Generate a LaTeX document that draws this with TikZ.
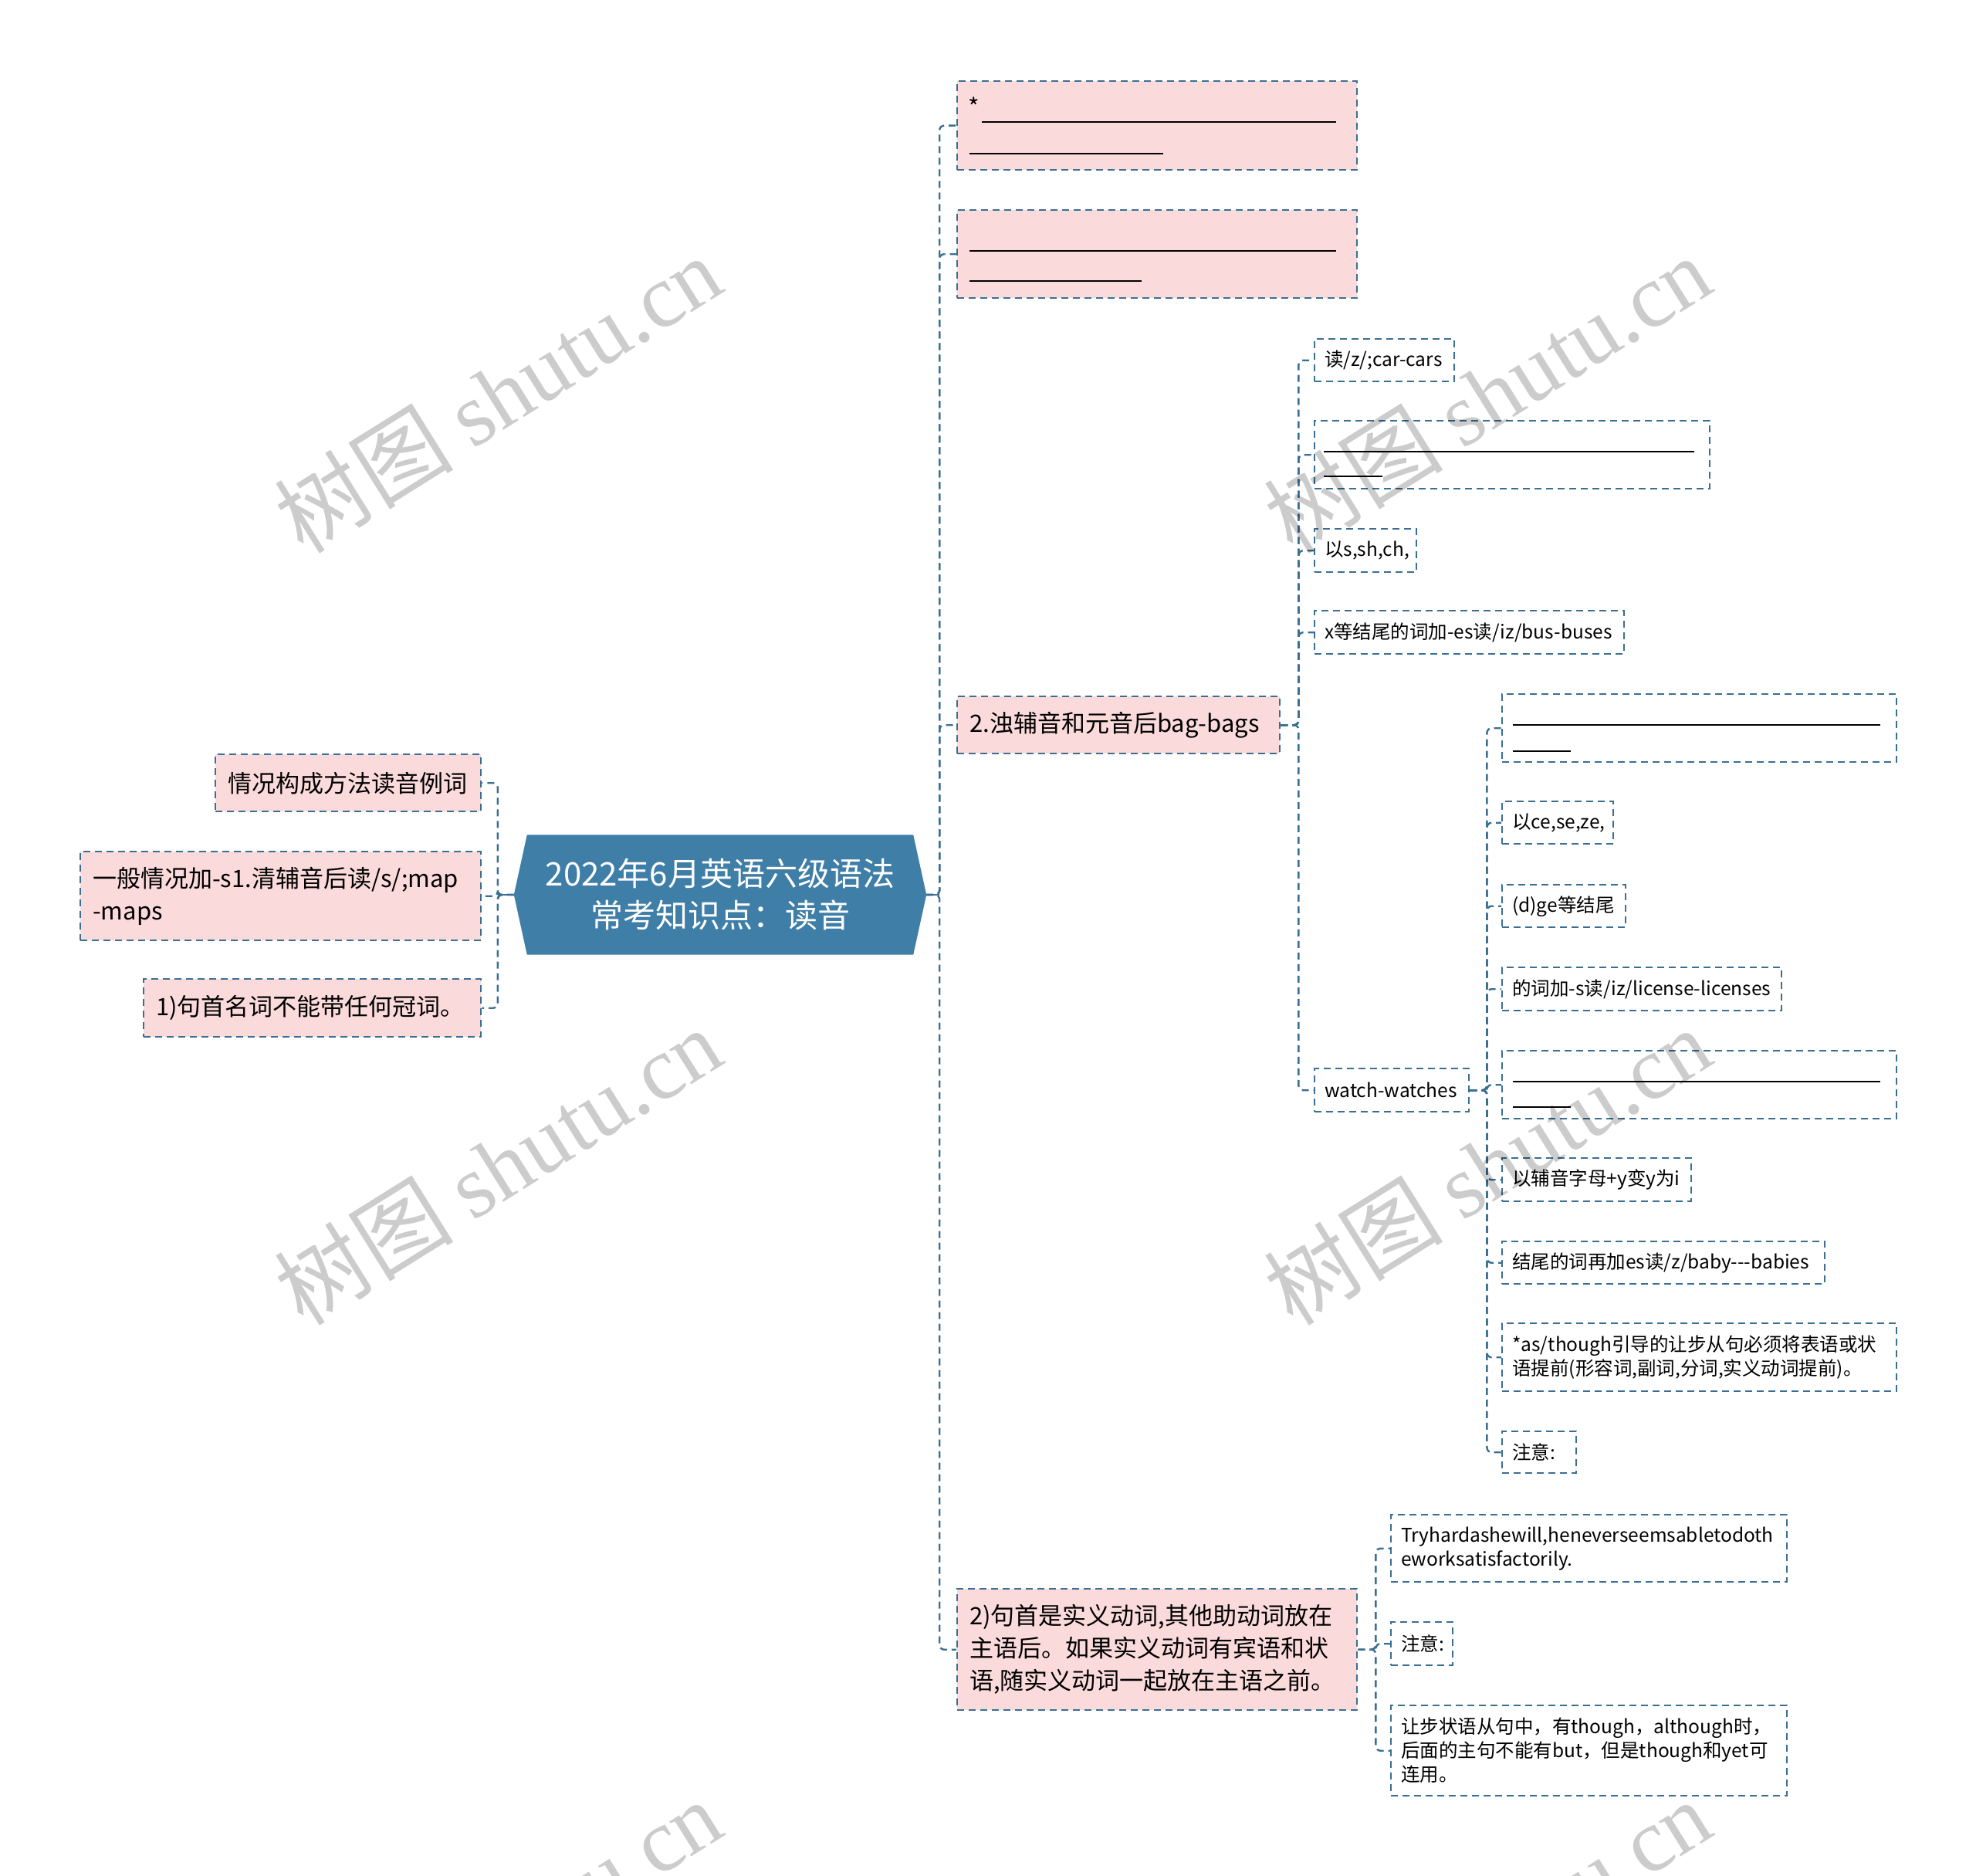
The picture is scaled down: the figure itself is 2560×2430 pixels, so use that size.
\documentclass[tikz,border=0pt]{standalone}
\usepackage{fontspec}
\setmainfont{Noto Sans CJK SC}
\newfontfamily\wmlatin{Liberation Serif}
\newfontfamily\wmcjk{Noto Sans CJK SC}
\usetikzlibrary{calc}
\definecolor{pinkfill}{HTML}{FADADA}
\definecolor{edgeblue}{HTML}{3A6F92}
\definecolor{rootblue}{HTML}{3F7EA6}
\pgfdeclarelayer{bg}
\pgfsetlayers{bg,main}
\hyphenpenalty=10000
\exhyphenpenalty=10000
\tikzset{
  boxbase/.style={rectangle, draw=edgeblue, line width=2.4pt, dash pattern=on 9pt off 6pt,
    anchor=north west, align=left, inner ysep=0pt},
  lvone/.style={boxbase, fill=pinkfill, inner xsep=16pt, font=\fontsize{31}{42}\selectfont},
  lvtwo/.style={boxbase, inner xsep=13pt, font=\fontsize{24.5}{31}\selectfont},
  conn/.style={draw=edgeblue, line width=2.4pt, dash pattern=on 9pt off 6pt, rounded corners=6pt},
  stub/.style={draw=edgeblue, line width=2.4pt},
  uline/.style={draw=black, line width=2pt},
  wm/.style={text=black, text opacity=0.2, rotate=32, font=\fontsize{116}{116}\selectfont},
}
\begin{document}
\begin{tikzpicture}[x=1pt,y=-1pt]
\useasboundingbox (0,0) rectangle (2560,2430);

% root
\node[minimum width=534pt, minimum height=155pt, inner sep=0pt, text=white, align=center,
  font=\fontsize{42}{54}\selectfont] (c) at (933,1159) {2022年6月英语六级语法\\常考知识点：读音};
\begin{pgfonlayer}{bg}
\fill[white] (0,0) rectangle (2560,2430);
\fill[rootblue] (c.west) -- ($(c.north west)+(17,0)$) -- ($(c.north east)+(-17,0)$) -- (c.east)
  -- ($(c.south east)+(-17,0)$) -- ($(c.south west)+(17,0)$) -- cycle;
\end{pgfonlayer}

% left children
\node[lvone, text width=312pt, minimum height=74pt] (L1) at (278,976) {\mbox{情况构成方法读音例词}};
\node[lvone, text width=487pt, minimum height=115pt] (L2) at (103,1102) {\mbox{一般情况加-s1.清辅音后读/s/;map}\\\mbox{-maps}};
\node[lvone, text width=405pt, minimum height=75pt] (L3) at (185,1267) {\mbox{1)句首名词不能带任何冠词。}};

% right level 1
\node[lvone, text width=486pt, minimum height=115pt] (R1) at (1239,104) {};
\node[lvone, text width=486pt, minimum height=114pt] (R2) at (1239,271) {};
\node[lvone, text width=386pt, minimum height=74pt] (R3) at (1239,901) {\mbox{2.浊辅音和元音后bag-bags}};
\node[lvone, text width=486pt, minimum height=157pt] (R4) at (1239,2057) {\mbox{2)句首是实义动词,其他助动词放在}\\\mbox{主语后。如果实义动词有宾语和状}\\\mbox{语,随实义动词一起放在主语之前。}};

\node[font=\fontsize{31}{31}\selectfont, inner sep=0pt, anchor=center] (star) at ($(R1.north west)+(23,34)$) {*};
\draw[uline] ($(R1.north west)+(33,54)$) -- ($(R1.north west)+(492,54)$);
\draw[uline] ($(R1.north west)+(17,95)$) -- ($(R1.north west)+(268,95)$);
\draw[uline] ($(R2.north west)+(17,54)$) -- ($(R2.north west)+(492,54)$);
\draw[uline] ($(R2.north west)+(17,93)$) -- ($(R2.north west)+(240,93)$);

% level 2 under R3
\node[lvtwo, text width=155pt, minimum height=55pt] (S1) at (1702,438) {\mbox{读/z/;car-cars}};
\node[lvtwo, text width=486pt, minimum height=88pt] (S2) at (1702,544) {};
\node[lvtwo, text width=106pt, minimum height=56pt] (S3) at (1702,684) {\mbox{以s,sh,ch,}};
\node[lvtwo, text width=375pt, minimum height=56pt] (S4) at (1702,790) {\mbox{x等结尾的词加-es读/iz/bus-buses}};
\node[lvtwo, text width=174pt, minimum height=56pt] (S5) at (1702,1383) {\mbox{watch-watches}};
\draw[uline] ($(S2.north west)+(13,41)$) -- ($(S2.north west)+(493,41)$);
\draw[uline] ($(S2.north west)+(13,73)$) -- ($(S2.north west)+(89,73)$);

% level 3 under S5
\node[lvtwo, text width=485pt, minimum height=88pt] (T1) at (1945,898) {};
\node[lvtwo, text width=118pt, minimum height=55pt] (T2) at (1945,1037) {\mbox{以ce,se,ze,}};
\node[lvtwo, text width=134pt, minimum height=55pt] (T3) at (1945,1145) {\mbox{(d)ge等结尾}};
\node[lvtwo, text width=336pt, minimum height=56pt] (T4) at (1945,1252) {\mbox{的词加-s读/iz/license-licenses}};
\node[lvtwo, text width=485pt, minimum height=88pt] (T5) at (1945,1360) {};
\node[lvtwo, text width=219pt, minimum height=56pt] (T6) at (1945,1499) {\mbox{以辅音字母+y变y为i}};
\node[lvtwo, text width=392pt, minimum height=55pt] (T7) at (1945,1607) {\mbox{结尾的词再加es读/z/baby-{}-{}-babies}};
\node[lvtwo, text width=485pt, minimum height=88pt] (T8) at (1945,1713) {\mbox{*as/though引导的让步从句必须将表语或状}\\\mbox{语提前(形容词,副词,分词,实义动词提前)。}};
\node[lvtwo, text width=70pt, minimum height=54pt] (T9) at (1945,1853) {\mbox{注意:}};
\draw[uline] ($(T1.north west)+(15,41)$) -- ($(T1.north west)+(491,41)$);
\draw[uline] ($(T1.north west)+(15,75)$) -- ($(T1.north west)+(90,75)$);
\draw[uline] ($(T5.north west)+(15,41)$) -- ($(T5.north west)+(491,41)$);
\draw[uline] ($(T5.north west)+(15,74)$) -- ($(T5.north west)+(90,74)$);

% level 2 under R4
\node[lvtwo, text width=487pt, minimum height=87pt] (U1) at (1801,1961) {\mbox{Tryhardashewill,heneverseemsabletodoth}\\\mbox{eworksatisfactorily.}};
\node[lvtwo, text width=54pt, minimum height=56pt] (U2) at (1801,2100) {\mbox{注意:}};
\node[lvtwo, text width=487pt, minimum height=117pt] (U3) at (1801,2208) {\mbox{让步状语从句中，有though，although时，}\\\mbox{后面的主句不能有but，但是though和yet可}\\\mbox{连用。}};

% connectors
\foreach \n in {L1,L2,L3} \draw[conn] (c.west) -- ++(-21,0) |- (\n.east);
\foreach \n in {R1,R2,R3,R4} \draw[conn] (c.east) -- ++(17,0) |- (\n.west);
\foreach \n in {S1,S2,S3,S4,S5} \draw[conn] (R3.east) -- ++(23,0) |- (\n.west);
\foreach \n in {T1,T2,T3,T4,T5,T6,T7,T8,T9} \draw[conn] (S5.east) -- ++(22,0) |- (\n.west);
\foreach \n in {U1,U2,U3} \draw[conn] (R4.east) -- ++(23,0) |- (\n.west);
\draw[stub] (c.west) -- ++(-21,0);
\draw[stub] (c.east) -- ++(17,0);

% watermarks
\foreach \p/\q in {645/510, 1927/510, 645/1510, 1927/1510, 645/2510, 1927/2510}
  \node[wm] at (\p,\q) {{\wmcjk 树图} {\wmlatin shutu.cn}};
\end{tikzpicture}
\end{document}
